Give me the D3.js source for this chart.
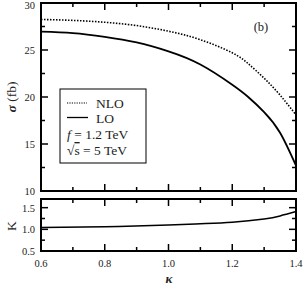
<!DOCTYPE html>
<html>
<head>
<meta charset="utf-8">
<script src="https://cdn.jsdelivr.net/npm/d3@7"></script>
<style>
  body { margin: 0; background: #fff; }
  text { font-family: "Liberation Serif", "Times New Roman", serif; fill: #222; }
</style>
</head>
<body>
<svg id="viz" width="303" height="286"></svg>
<script>
// values
var kappa = [0.6, 0.7, 0.8, 0.9, 1.0, 1.1, 1.2, 1.25, 1.3, 1.35, 1.4];
var sigmaNLO = [28.25, 28.15, 27.95, 27.6, 27.0, 26.1, 24.7, 23.55, 22.0, 20.2, 18.1];
var sigmaLO = [26.95, 26.8, 26.4, 25.8, 24.85, 23.45, 21.3, 20.0, 18.4, 16.2, 12.7];
var kappaK = [0.6, 0.8, 1.0, 1.1, 1.2, 1.3, 1.35, 1.4];
var ratioK = [1.04, 1.06, 1.10, 1.13, 1.165, 1.24, 1.31, 1.41];
var xTicks = [0.6, 0.8, 1.0, 1.2, 1.4];
var sigmaTicks = [10, 15, 20, 25, 30];
var kTicks = [0.5, 1.0, 1.5];

var svg = d3.select("#viz")
  , left = 41, right = 296
  , top1 = 3, bot1 = 191
  , top2 = 199, bot2 = 251;

var x = d3.scaleLinear().domain([0.6, 1.4]).range([left, right]);
var y1 = d3.scaleLinear().domain([10, 30]).range([bot1, top1]);
var y2 = d3.scaleLinear().domain([0.5, 1.7]).range([bot2, top2]);

var minorX = [0.7, 0.9, 1.1, 1.3];

// draw ticks pointing inward on all four sides of a panel
function panelTicks(yScale, yTop, yBot, majorY, minorY){
  var g = svg.append("g").attr("stroke", "#000").attr("stroke-width", 1.5);
  xTicks.slice(1, -1).forEach(function(t){
    g.append("line").attr("x1", x(t)).attr("x2", x(t)).attr("y1", yBot).attr("y2", yBot - 7);
    g.append("line").attr("x1", x(t)).attr("x2", x(t)).attr("y1", yTop).attr("y2", yTop + 7);
  });
  minorX.forEach(function(t){
    g.append("line").attr("x1", x(t)).attr("x2", x(t)).attr("y1", yBot).attr("y2", yBot - 4);
    g.append("line").attr("x1", x(t)).attr("x2", x(t)).attr("y1", yTop).attr("y2", yTop + 4);
  });
  majorY.forEach(function(t){
    g.append("line").attr("x1", left).attr("x2", left + 7).attr("y1", yScale(t)).attr("y2", yScale(t));
    g.append("line").attr("x1", right).attr("x2", right - 7).attr("y1", yScale(t)).attr("y2", yScale(t));
  });
  minorY.forEach(function(t){
    g.append("line").attr("x1", left).attr("x2", left + 4).attr("y1", yScale(t)).attr("y2", yScale(t));
    g.append("line").attr("x1", right).attr("x2", right - 4).attr("y1", yScale(t)).attr("y2", yScale(t));
  });
}

// top panel
var line1 = d3.line().x(function(d){ return x(d[0]); }).y(function(d){ return y1(d[1]); }).curve(d3.curveNatural);
svg.append("path")
  .attr("d", line1(d3.zip(kappa, sigmaNLO)))
  .attr("fill", "none").attr("stroke", "#000").attr("stroke-width", 1.6)
  .attr("stroke-dasharray", "1.5,1.5");
svg.append("path")
  .attr("d", line1(d3.zip(kappa, sigmaLO)))
  .attr("fill", "none").attr("stroke", "#000").attr("stroke-width", 1.8);

panelTicks(y1, top1, bot1, [15, 20, 25], [12.5, 17.5, 22.5, 27.5]);
svg.append("rect").attr("x", left).attr("y", top1).attr("width", right - left).attr("height", bot1 - top1)
  .attr("fill", "none").attr("stroke", "#000").attr("stroke-width", 2);

svg.selectAll(".ylab1").data(sigmaTicks).enter().append("text")
  .attr("x", left - 6).attr("y", function(d){ return Math.max(y1(d) + 4, 9); })
  .attr("text-anchor", "end").attr("font-size", 10.5)
  .text(function(d){ return d; });

svg.append("text").attr("x", 261).attr("y", 31).attr("text-anchor", "middle")
  .attr("font-size", 12.5).text("(b)");

// legend
var leg = svg.append("g");
leg.append("rect").attr("x", 60).attr("y", 89).attr("width", 86).attr("height", 74)
  .attr("fill", "#fff").attr("stroke", "#000").attr("stroke-width", 1);
leg.append("line").attr("x1", 67).attr("x2", 87).attr("y1", 103).attr("y2", 103)
  .attr("stroke", "#000").attr("stroke-width", 1).attr("stroke-dasharray", "1.2,1.2");
leg.append("line").attr("x1", 67).attr("x2", 88).attr("y1", 117.5).attr("y2", 117.5)
  .attr("stroke", "#000").attr("stroke-width", 1.3);
leg.append("text").attr("x", 96).attr("y", 107.5).attr("font-size", 13.5).text("NLO");
leg.append("text").attr("x", 96).attr("y", 122.5).attr("font-size", 13.5).text("LO");
var t3 = leg.append("text").attr("x", 67).attr("y", 139).attr("font-size", 13.5);
t3.append("tspan").attr("font-style", "italic").text("f");
t3.append("tspan").text(" = 1.2 TeV");
var t4 = leg.append("text").attr("x", 67).attr("y", 155).attr("font-size", 13.5);
t4.append("tspan").text("\u221A");
t4.append("tspan").attr("text-decoration", "overline").text("s");
t4.append("tspan").text(" = 5 TeV");

// bottom panel
var line2 = d3.line().x(function(d){ return x(d[0]); }).y(function(d){ return y2(d[1]); }).curve(d3.curveNatural);
svg.append("path")
  .attr("d", line2(d3.zip(kappaK, ratioK)))
  .attr("fill", "none").attr("stroke", "#000").attr("stroke-width", 1.5);

panelTicks(y2, top2, bot2, [1.0, 1.5], [0.75, 1.25]);
svg.append("rect").attr("x", left).attr("y", top2).attr("width", right - left).attr("height", bot2 - top2)
  .attr("fill", "none").attr("stroke", "#000").attr("stroke-width", 2);

svg.selectAll(".ylab2").data(kTicks).enter().append("text")
  .attr("x", left - 6).attr("y", function(d){ return y2(d) + 4; })
  .attr("text-anchor", "end").attr("font-size", 10.5)
  .text(function(d){ return d.toFixed(1); });

svg.selectAll(".xlab").data(xTicks).enter().append("text")
  .attr("x", function(d){ return x(d); }).attr("y", 267)
  .attr("text-anchor", "middle").attr("font-size", 10.5)
  .text(function(d){ return d.toFixed(1); });

// axis titles
var st = svg.append("text").attr("transform", "translate(16,97) rotate(-90)")
  .attr("text-anchor", "middle").attr("font-size", 13.5);
st.append("tspan").attr("font-style", "italic").attr("font-weight", "bold").text("\u03C3");
st.append("tspan").text(" (fb)");
svg.append("text").attr("transform", "translate(16,226) rotate(-90)")
  .attr("text-anchor", "middle").attr("font-size", 13.5).text("K");
svg.append("text").attr("x", 169).attr("y", 283).attr("text-anchor", "middle")
  .attr("font-size", 13).attr("font-style", "italic").attr("font-weight", "bold").text("\u03BA");
</script>
</body>
</html>
